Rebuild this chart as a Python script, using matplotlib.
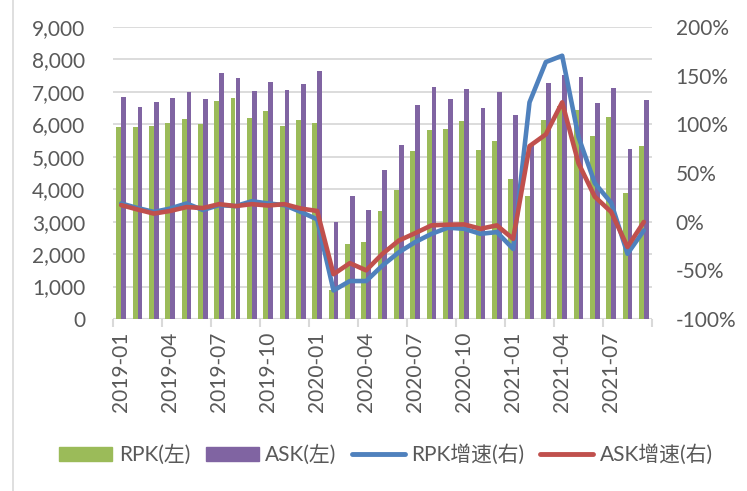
import matplotlib
matplotlib.use("Agg")
import matplotlib.pyplot as plt
from matplotlib.lines import Line2D
from matplotlib.patches import Patch
import numpy as np

plt.rcParams['font.family'] = ['Lato', 'Noto Sans CJK SC', 'DejaVu Sans']

months = [f"{y}-{m:02d}" for y in (2019, 2020, 2021) for m in range(1, 13)][:33]

rpk = [5915, 5925, 5956, 6029, 6175, 6008, 6715, 6809, 6206, 6424, 5956, 6133,
       6040, 900, 2318, 2370, 3326, 3981, 5177, 5832, 5852, 6102, 5198, 5499,
       4304, 3790, 6120, 6550, 6430, 5625, 6225, 3880, 5325]
ask = [6850, 6540, 6684, 6819, 6996, 6767, 7578, 7432, 7037, 7308, 7069, 7256,
       7630, 2985, 3805, 3368, 4605, 5353, 6590, 7162, 6778, 7089, 6518, 6985,
       6279, 5350, 7280, 7510, 7465, 6660, 7135, 5235, 6735]
rpk_g = [18.7, 14, 10, 13.5, 18.7, 12, 17, 16, 21, 18.7, 17, 10,
         2.4, -70.7, -61, -61, -45, -31.5, -21, -12.5, -6.2, -7.3, -12.5, -10.7,
         -28, 122.6, 164, 170.5, 87, 39.5, 19.4, -33, -9]
ask_g = [17, 12.5, 8.3, 11, 15, 14, 18, 16, 18, 16.6, 18, 13.5,
         11, -54, -42.6, -50, -33, -19.4, -11.8, -3.8, -3.1, -2.8, -7.3, -3.8,
         -17.7, 77.6, 89.7, 122.6, 60, 25.6, 10, -26, -0.3]

left_ticks = list(range(0, 10000, 1000))
right_ticks = [-100, -50, 0, 50, 100, 150, 200]

GREEN = '#9bbb59'
PURPLE = '#8064a2'
BLUE = '#4f81bd'
RED = '#c0504d'
TXT = '#595959'
GRID = '#d9d9d9'

W, H = 747, 491
fig = plt.figure(figsize=(W / 100, H / 100), dpi=100)
ax = fig.add_axes([113 / W, (H - 319) / H, (652 - 113) / W, (319 - 27) / H])
ax2 = ax.twinx()

x = np.arange(len(months))
bw = 0.3
ax.bar(x - bw / 2, rpk, width=bw, color=GREEN, zorder=2)
ax.bar(x + bw / 2, ask, width=bw, color=PURPLE, zorder=2)

ax2.plot(x, np.array(rpk_g) / 100, color=BLUE, lw=3.3, solid_joinstyle='round',
         solid_capstyle='round', zorder=3)
ax2.plot(x, np.array(ask_g) / 100, color=RED, lw=3.3, solid_joinstyle='round',
         solid_capstyle='round', zorder=4)

ax.set_xlim(-0.5, len(months) - 0.5)
ax.set_ylim(0, 9000)
ax2.set_ylim(-1, 2)

ax.set_yticks(left_ticks)
ax.set_yticklabels([f"{v:,}" for v in left_ticks])
ax2.set_yticks(np.array(right_ticks) / 100)
ax2.set_yticklabels([f"{v}%" for v in right_ticks])

ax.grid(axis='y', color=GRID, lw=1.3, zorder=0)
ax.set_axisbelow(True)

for a in (ax, ax2):
    for s in ('top', 'left', 'right', 'bottom'):
        a.spines[s].set_visible(False)
ax.axhline(0, color=GRID, lw=1.5, zorder=1)

ax.tick_params(axis='y', length=0, pad=20, labelsize=15, labelcolor=TXT)
ax2.tick_params(axis='y', length=0, pad=17, labelsize=15, labelcolor=TXT)

major = list(range(0, len(months), 3))
ax.set_xticks(major)
ax.set_xticklabels([months[i] for i in major], rotation=90, va='top', ha='center')
ax.set_xticks(np.arange(-0.5, len(months), 3), minor=True)
ax.tick_params(axis='x', which='major', length=0, pad=9, labelsize=15, labelcolor=TXT)
ax.tick_params(axis='x', which='minor', length=6, width=1.5, color=GRID, direction='out')

fig.add_artist(Line2D([13 / W, 13 / W], [0, 1], color=GRID, lw=1.2))

handles = [Patch(color=GREEN), Patch(color=PURPLE),
           Line2D([], [], color=BLUE, lw=3.5, solid_capstyle='round'),
           Line2D([], [], color=RED, lw=3.5, solid_capstyle='round')]
labels = ['RPK(左)', 'ASK(左)', 'RPK增速(右)', 'ASK增速(右)']
fig.legend(handles, labels, loc='center', bbox_to_anchor=(386 / W, (H - 455) / H),
           ncol=4, frameon=False, fontsize=15, labelcolor=TXT,
           handlelength=2.55, handleheight=0.6, handletextpad=0.3,
           columnspacing=0.75)

fig.savefig('out.png', dpi=100)
